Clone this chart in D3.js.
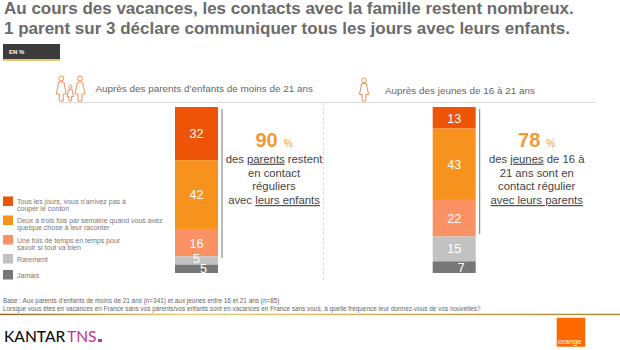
<!DOCTYPE html>
<html>
<head>
<meta charset="utf-8">
<script src="https://cdnjs.cloudflare.com/ajax/libs/d3/7.8.5/d3.min.js"></script>
<style>
html, body { margin: 0; padding: 0; background: #fff; }
svg { display: block; font-family: "Liberation Sans", Arial, sans-serif; }
</style>
</head>
<body>
<div id="chart"></div>
<script>
const categories = [
    'Tous les jours, vous n’arrivez pas à couper le cordon',
    'Deux à trois fois par semaine quand vous avez quelque chose à leur raconter',
    'Une fois de temps en temps pour savoir si tout va bien',
    'Rarement',
    'Jamais'
];
const legendLines = [
    ['Tous les jours, vous n’arrivez pas à', 'couper le cordon'],
    ['Deux à trois fois par semaine quand vous avez', 'quelque chose à leur raconter'],
    ['Une fois de temps en temps pour', 'savoir si tout va bien'],
    ['Rarement'],
    ['Jamais']
];
const colors = ['#ee5408', '#f7921e', '#fb9264', '#c2c2c2', '#767676'];
const parentsValues = [32, 42, 16, 5, 5];
const jeunesValues = [13, 43, 22, 15, 7];

const svg = d3.select('#chart').append('svg')
    .attr('width', 620)
    .attr('height', 350);

// Titre
const titleLines = [
    'Au cours des vacances, les contacts avec la famille restent nombreux.',
    '1 parent sur 3 déclare communiquer tous les jours avec leurs enfants.'
];
svg.selectAll('.title')
    .data(titleLines)
    .enter()
    .append('text')
    .attr('class', 'title')
    .attr('x', 4)
    .attr('y', (d, i) => 13.5 + i * 20.5)
    .attr('font-size', 17)
    .attr('font-weight', 'bold')
    .attr('fill', '#6b6b6b')
    .text(d => d);

// Cartouche EN %
svg.append('rect').attr('x', 3).attr('y', 44).attr('width', 57).attr('height', 15).attr('fill', '#3b3b3b');
svg.append('rect').attr('x', 3).attr('y', 59).attr('width', 57).attr('height', 2).attr('fill', '#e8c66a');
svg.append('text').attr('x', 9).attr('y', 54).attr('font-size', 6).attr('font-weight', 'bold').attr('fill', '#fff').text('EN %');

// Filets
svg.append('line').attr('x1', 60).attr('x2', 596).attr('y1', 102.5).attr('y2', 102.5).attr('stroke', '#d9d9d9');
svg.append('line').attr('x1', 323.5).attr('x2', 323.5).attr('y1', 102).attr('y2', 280).attr('stroke', '#d9d9d9').attr('stroke-dasharray', '3,2');

const y = d3.scaleLinear().domain([0, 100]).range([107, 273]);

// Décalages des étiquettes trop serrées dans le graphique d'origine
function drawStack(values, x0, ruleEnd, labelShift) {
    let cum = 0;
    const stacked = values.map((v, i) => {
        const d = { v, i, y0: cum, y1: cum + v };
        cum += v;
        return d;
    });
    const g = svg.append('g');
    g.selectAll('rect')
        .data(stacked)
        .enter()
        .append('rect')
        .attr('x', x0)
        .attr('width', 43)
        .attr('y', d => y(d.y0))
        .attr('height', d => y(d.y1) - y(d.y0))
        .attr('fill', d => colors[d.i]);
    g.selectAll('text')
        .data(stacked)
        .enter()
        .append('text')
        .attr('x', d => x0 + 21.5 + (labelShift[d.i] ? labelShift[d.i][0] : 0))
        .attr('y', d => (y(d.y0) + y(d.y1)) / 2 + 4.5 + (labelShift[d.i] ? labelShift[d.i][1] : 0))
        .attr('text-anchor', 'middle')
        .attr('font-size', 12.6)
        .attr('fill', '#fff')
        .text(d => d.v);
    svg.append('line')
        .attr('x1', x0 + 47).attr('x2', x0 + 47)
        .attr('y1', 109).attr('y2', ruleEnd)
        .attr('stroke', '#777').attr('stroke-width', 1);
}
drawStack(parentsValues, 175, 258, { 3: [0, -2], 4: [7, -0.5] });
drawStack(jeunesValues, 432.7, 234, { 0: [0, 1], 4: [7, 0] });

// Encadrés
function drawCallout(cx, pct, lines) {
    const big = svg.append('text').attr('x', cx).attr('y', 147).attr('text-anchor', 'middle');
    big.append('tspan').attr('font-size', 20).attr('font-weight', 'bold').attr('fill', '#ee9a3c').text(pct);
    big.append('tspan').attr('font-size', 10).attr('fill', '#f0a040').attr('dx', 6).text('%');
    lines.forEach((parts, i) => {
        const t = svg.append('text')
            .attr('x', cx)
            .attr('y', 162.7 + i * 13.8)
            .attr('text-anchor', 'middle')
            .attr('font-size', 11.3)
            .attr('fill', '#444');
        parts.forEach(p => {
            const s = t.append('tspan').text(p.t);
            if (p.u) s.attr('text-decoration', 'underline');
        });
    });
}
drawCallout(274, '90', [
    [{ t: 'des ' }, { t: 'parents', u: true }, { t: ' restent' }],
    [{ t: 'en contact' }],
    [{ t: 'réguliers' }],
    [{ t: 'avec ' }, { t: 'leurs enfants', u: true }]
]);
drawCallout(536.7, '78', [
    [{ t: 'des ' }, { t: 'jeunes', u: true }, { t: ' de 16 à' }],
    [{ t: '21 ans sont en' }],
    [{ t: 'contact régulier' }],
    [{ t: 'avec leurs parents', u: true }]
]);

// En-têtes
svg.append('text').attr('x', 95.5).attr('y', 92).attr('font-size', 9.9).attr('fill', '#666').text('Auprès des parents d’enfants de moins de 21 ans');
svg.append('text').attr('x', 385).attr('y', 94).attr('font-size', 9.9).attr('fill', '#666').text('Auprès des jeunes de 16 à 21 ans');

// Pictos
const icons = svg.append('g').attr('fill', 'none').attr('stroke', '#f2905c').attr('stroke-width', 1);
function person(cx, top, h) {
    const r = h * 0.1;
    icons.append('circle').attr('cx', cx).attr('cy', top + r).attr('r', r);
    const w = h * 0.2;
    const b = top + 2 * r + 1;
    icons.append('path').attr('d',
        `M${cx - w / 2},${b} L${cx + w / 2},${b} L${cx + w},${top + h * 0.72} L${cx + w * 0.4},${top + h * 0.72} L${cx + w * 0.4},${top + h} L${cx - w * 0.4},${top + h} L${cx - w * 0.4},${top + h * 0.72} L${cx - w},${top + h * 0.72} Z`);
}
person(61.3, 76, 25);
person(70.3, 85, 16);
person(80, 76, 25);
person(364, 78, 23);

// Légende
const legendSquare = [196.5, 215.5, 235, 254, 270];
const legendText = [204, 222.7, 242.7, 261.7, 278];
const legend = svg.append('g');
legend.selectAll('rect')
    .data(categories)
    .enter()
    .append('rect')
    .attr('x', 3)
    .attr('y', (d, i) => legendSquare[i])
    .attr('width', 10)
    .attr('height', 9.5)
    .attr('fill', (d, i) => colors[i]);
legendLines.forEach((lines, i) => {
    lines.forEach((l, j) => {
        legend.append('text')
            .attr('x', 17)
            .attr('y', legendText[i] + j * 7)
            .attr('font-size', 7)
            .attr('fill', '#777')
            .text(l);
    });
});

// Base
svg.append('text').attr('x', 3).attr('y', 303).attr('font-size', 6.4).attr('fill', '#666')
    .text('Base : Aux parents d’enfants de moins de 21 ans (n=341) et aux jeunes entre 16 et 21 ans (n=85)');
svg.append('text').attr('x', 3).attr('y', 311).attr('font-size', 6.4).attr('fill', '#666')
    .text('Lorsque vous êtes en vacances en France sans vos parents/vos enfants sont en vacances en France sans vous, à quelle fréquence leur donnez-vous de vos nouvelles?');

// Filet doré
const defs = svg.append('defs');
const grad = defs.append('linearGradient').attr('id', 'gold');
grad.append('stop').attr('offset', '0%').attr('stop-color', '#8a6d20');
grad.append('stop').attr('offset', '30%').attr('stop-color', '#e6cd7a');
grad.append('stop').attr('offset', '100%').attr('stop-color', '#a88a30');
svg.append('rect').attr('x', 0).attr('y', 313.7).attr('width', 620).attr('height', 1.5).attr('fill', 'url(#gold)');

// Logos
svg.append('text').attr('x', 4).attr('y', 341.7).attr('font-size', 15.5).attr('font-weight', 500)
    .attr('font-family', 'Lato, sans-serif').attr('fill', '#111').text('KANTAR');
svg.append('text').attr('x', 67).attr('y', 341.7).attr('font-size', 15.5)
    .attr('font-family', 'Lato, sans-serif').attr('fill', '#c8328c').text('TNS');
svg.append('rect').attr('x', 98).attr('y', 339).attr('width', 4).attr('height', 3).attr('fill', '#c8328c');
svg.append('rect').attr('x', 556.7).attr('y', 317.7).attr('width', 28.5).attr('height', 29).attr('fill', '#ff6a00');
svg.append('text').attr('x', 558).attr('y', 344.3).attr('font-size', 7.5).attr('fill', '#fff').text('orange');
</script>
</body>
</html>
